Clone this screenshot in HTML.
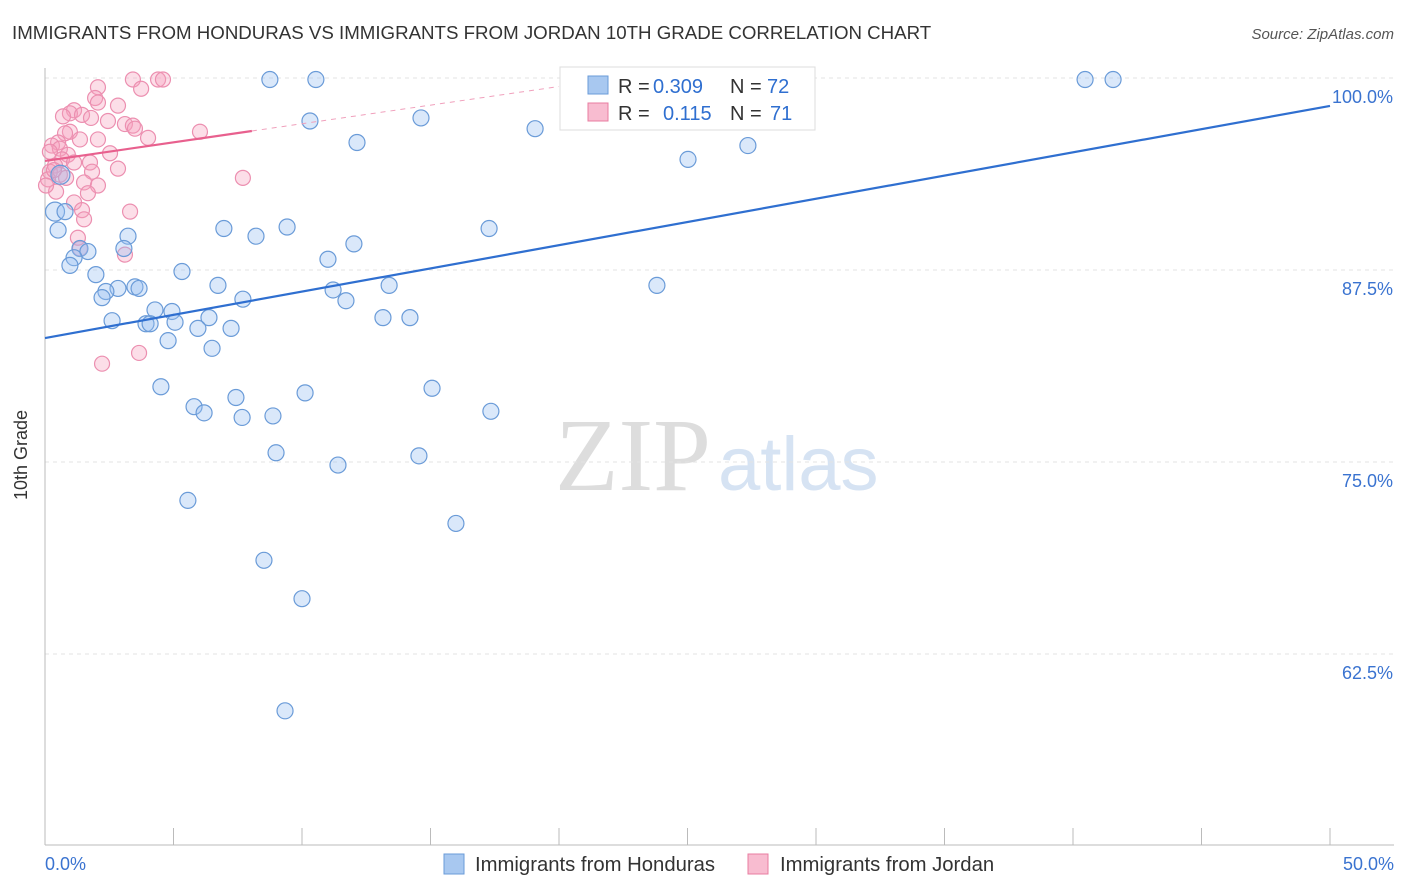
<!DOCTYPE html>
<html><head><meta charset="utf-8"><style>
body{margin:0;background:#fff;font-family:"Liberation Sans",sans-serif}
svg{display:block}
</style></head><body>
<svg id="chart" width="1406" height="892">
<text x="12" y="39" font-size="18.7" fill="#333">IMMIGRANTS FROM HONDURAS VS IMMIGRANTS FROM JORDAN 10TH GRADE CORRELATION CHART</text>
<text x="1394" y="39" font-size="15" fill="#555" font-style="italic" text-anchor="end">Source: ZipAtlas.com</text>
<text x="555" y="490" font-size="104" fill="#ddd" font-family="Liberation Serif">ZIP</text>
<text x="718" y="490" font-size="76" fill="#d6e3f3">atlas</text>
<g id="grid"></g><g id="axes"></g><g id="pts"></g><g id="lines"></g>
<g>
<rect x="560" y="67" width="255" height="63" fill="#fff" stroke="#ddd"/>
<rect x="588" y="76" width="20" height="18" fill="#a8c8f0" stroke="#6a9bd8"/>
<text x="618" y="93" font-size="20" fill="#333">R =</text>
<text x="653" y="93" font-size="20" fill="#2f6fd0">0.309</text>
<text x="730" y="93" font-size="20" fill="#333">N =</text>
<text x="767" y="93" font-size="20" fill="#2f6fd0">72</text>
<rect x="588" y="103" width="20" height="18" fill="#f8bcd0" stroke="#e87da0"/>
<text x="618" y="120" font-size="20" fill="#333">R =</text>
<text x="663" y="120" font-size="20" fill="#2f6fd0">0.115</text>
<text x="730" y="120" font-size="20" fill="#333">N =</text>
<text x="770" y="120" font-size="20" fill="#2f6fd0">71</text>
</g>
<g>
<rect x="444" y="854" width="20" height="20" fill="#a8c8f0" stroke="#6a9bd8"/>
<text x="475" y="871" font-size="20.3" fill="#333">Immigrants from Honduras</text>
<rect x="748" y="854" width="20" height="20" fill="#f8bcd0" stroke="#e87da0"/>
<text x="780" y="871" font-size="20.3" fill="#333">Immigrants from Jordan</text>
</g>
<text x="27" y="455" font-size="18" fill="#333" transform="rotate(-90 27 455)" text-anchor="middle">10th Grade</text>
</svg>
<script>
const yTicks=[100,87.5,75,62.5];
const yTickLabels=["100.0%","87.5%","75.0%","62.5%"];
const xTickLabels=["0.0%","50.0%"];
const blueX=[8.75,10.54,40.47,41.56,24.51,28.13,10.31,14.63,19.07,12.14,25.02,27.35,0.39,0.78,0.51,3.23,3.07,6.96,8.21,9.42,17.28,12.02,11.01,1.36,1.67,1.13,0.97,1.98,5.33,2.84,2.37,2.22,3.5,3.66,6.73,7.7,11.21,11.71,13.39,23.81,4.28,4.94,2.61,3.93,4.09,5.06,6.38,5.95,7.24,13.15,14.2,4.79,6.5,4.51,7.43,10.12,15.06,5.8,6.19,7.67,8.87,17.35,8.99,14.55,11.4,5.56,15.99,8.52,10.0,9.34,0.6];
const blueY=[99.9,99.9,99.9,99.9,99.9,99.9,97.2,97.4,96.7,95.8,94.7,95.6,91.3,91.3,90.1,89.7,88.9,90.2,89.7,90.3,90.2,89.2,88.2,88.9,88.7,88.3,87.8,87.2,87.4,86.3,86.1,85.7,86.4,86.3,86.5,85.6,86.2,85.5,86.5,86.5,84.9,84.8,84.2,84.0,84.0,84.1,84.4,83.7,83.7,84.4,84.4,82.9,82.4,79.9,79.2,79.5,79.8,78.6,78.2,77.9,78.0,78.3,75.6,75.4,74.8,72.5,71.0,68.6,66.1,58.8,93.7];
const pinkX=[3.42,4.4,4.59,3.74,2.06,1.95,2.06,2.84,1.13,0.97,1.44,0.7,1.79,2.45,3.11,3.42,3.5,4.01,0.97,0.78,1.36,0.51,2.06,0.27,0.58,0.19,0.89,2.53,0.66,1.13,1.75,0.39,0.19,2.84,1.83,0.58,0.12,0.82,1.52,2.06,0.43,1.67,1.13,1.44,1.52,3.31,6.03,7.7,1.28,1.36,3.11,3.66,2.22,0.35,0.04];
const pinkY=[99.9,99.9,99.9,99.3,99.4,98.7,98.4,98.2,97.9,97.7,97.6,97.5,97.4,97.2,97.0,96.9,96.7,96.1,96.5,96.4,96.0,95.8,96.0,95.6,95.4,95.2,95.0,95.1,94.7,94.5,94.5,94.3,93.9,94.1,93.9,93.7,93.4,93.5,93.2,93.0,92.6,92.5,91.9,91.4,90.8,91.3,96.5,93.5,89.6,88.9,88.5,82.1,81.4,94.0,93.0];
const blueLine=[83.07,98.18];
const pinkLine=[94.6,96.55];
const pinkLineEnd=8.05;
const X0=45,X1=1330,Y100=78,PPU=15.36;
const sx=v=>X0+(X1-X0)*v/50;
const sy=v=>Y100+(100-v)*PPU;
const NS="http://www.w3.org/2000/svg";
function mk(parent,tag,attrs){const e=document.createElementNS(NS,tag);for(const k in attrs)e.setAttribute(k,attrs[k]);document.getElementById(parent).appendChild(e);return e;}
yTicks.forEach((t,i)=>{
 const g=mk('grid','line',{x1:X0,x2:1394,y1:sy(t),y2:sy(t),stroke:'#e3e3e3','stroke-dasharray':'4,4'});
 
 
 const l=mk('axes','text',{x:1393,y:sy(t)+25,'font-size':18,fill:'#3a73d0','text-anchor':'end'});
 l.textContent=yTickLabels[i];
 
 
});
const ax=mk('axes','line',{x1:X0,x2:1394,y1:845,y2:845,stroke:'#bbb'});


const ay=mk('axes','line',{x1:X0,x2:X0,y1:68,y2:845,stroke:'#bbb'});


for(let i=0;i<=10;i++){const t=mk('axes','line',{x1:sx(i*5),x2:sx(i*5),y1:828,y2:845,stroke:'#bbb'});
 
 }
[[0,'start',45],[50,'end',1394]].forEach((d,i)=>{const l=mk('axes','text',{x:d[2],y:870,'font-size':18,fill:'#3a73d0','text-anchor':d[1]});l.textContent=xTickLabels[i];
 
 });
pinkX.forEach((x,i)=>{const c=mk('pts','circle',{cx:sx(x),cy:sy(pinkY[i]),r:7.5,fill:'rgba(245,160,190,0.35)',stroke:'#ec8fb0','stroke-width':1.2});
 
 });
blueX.forEach((x,i)=>{const c=mk('pts','circle',{cx:sx(x),cy:sy(blueY[i]),r:i==blueX.length-1||i==12?9.5:8,fill:'rgba(150,190,240,0.35)',stroke:'#6a9bd8','stroke-width':1.2});
 
 });
const bl=mk('lines','line',{x1:sx(0),y1:sy(blueLine[0]),x2:sx(50),y2:sy(blueLine[1]),stroke:'#2f6fd0','stroke-width':2.2});


const slope=(pinkLine[1]-pinkLine[0])/pinkLineEnd;
const pd=mk('lines','line',{x1:sx(pinkLineEnd),y1:sy(pinkLine[1]),x2:sx(20),y2:sy(pinkLine[0]+slope*20),stroke:'#f0a0bc','stroke-width':1,'stroke-dasharray':'5,5'});


const pl=mk('lines','line',{x1:sx(0),y1:sy(pinkLine[0]),x2:sx(pinkLineEnd),y2:sy(pinkLine[1]),stroke:'#e8608e','stroke-width':2.2});


</script>
</body></html>
